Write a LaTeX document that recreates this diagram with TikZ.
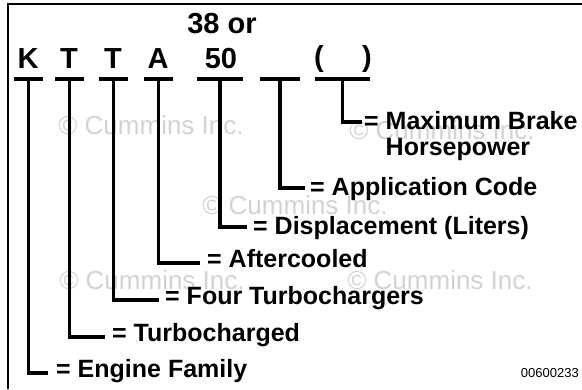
\documentclass[tikz,border=0pt]{standalone}
\usepackage{fontspec}
\setmainfont{Liberation Sans}
\usepackage{tikz}
\usetikzlibrary{positioning, calc}

\begin{document}
\begin{tikzpicture}[
    x=1pt, y=-1pt,
    letter/.style={
      font=\fontsize{29}{34}\selectfont\bfseries,
      inner sep=0pt, anchor=base
    },
    meaning/.style={
      font=\fontsize{25}{26.5}\selectfont\bfseries,
      inner sep=0pt, anchor=base west
    },
    bar/.style={line width=3.6pt},
    stem/.style={line width=3.6pt, line join=miter},
    frame/.style={line width=2.5pt},
    watermark/.style={
      font=\fontsize{26}{30}\selectfont,
      text=gray!35, inner sep=0pt
    },
    figno/.style={font=\fontsize{13}{15}\selectfont, inner sep=0pt, anchor=base east}
  ]

    % ── Page size and frame ───────────────────────────────────────────────
    \useasboundingbox (0,0) rectangle (582,389);
    \draw[frame] (8,389) -- (8,4) -- (582,4);

    % ── Watermarks (behind everything) ───────────────────────────────────
    \node[watermark] (wm1) at (151,125) {© Cummins Inc.};
    \node[watermark] (wm2) at (442,130) {© Cummins Inc.};
    \node[watermark] (wm3) at (295,205) {© Cummins Inc.};
    \node[watermark] (wm4) at (152,280) {© Cummins Inc.};
    \node[watermark] (wm5) at (440,280) {© Cummins Inc.};

    % ── Model code letters ───────────────────────────────────────────────
    \node[letter] (k)    at (28,68)  {K};
    \node[letter] (t1)   at (69,68)  {T};
    \node[letter] (t2)   at (113,68) {T};
    \node[letter] (a)    at (158,68) {A};
    \node[letter] (d50)  at (221,68) {50};
    \node[letter] (d38)  at (222,33) {38 or};
    \node[letter] (popen)  at (319,66) {(};
    \node[letter] (pclose) at (367,66) {)};

    % ── Bars under each position ─────────────────────────────────────────
    \foreach \n/\x/\w in {k/28.5/14.5, t1/69.5/14.5, t2/113.5/14.5, a/158.5/14.5,
                          dsp/220/23, app/280/20, hp/342.5/27.5} {
      \coordinate (\n-top) at (\x,79);
      \draw[bar] ([xshift=-\w pt]\n-top) -- ([xshift=\w pt]\n-top);
    }

    % ── Ends of the leader lines ─────────────────────────────────────────
    \coordinate (k-end)   at (48,373);
    \coordinate (t1-end)  at (105,337);
    \coordinate (t2-end)  at (159,300);
    \coordinate (a-end)   at (200,263);
    \coordinate (dsp-end) at (247,227);
    \coordinate (app-end) at (305,188);
    \coordinate (hp-end)  at (362,122);

    % ── Meanings ─────────────────────────────────────────────────────────
    \node[meaning] (lbl_k)   at (56,377)  {= Engine Family};
    \node[meaning] (lbl_t1)  at (112,341) {= Turbocharged};
    \node[meaning] (lbl_t2)  at (165,304) {= Four Turbochargers};
    \node[meaning] (lbl_a)   at (207,267) {= Aftercooled};
    \node[meaning] (lbl_dsp) at (253,234) {= Displacement (Liters)};
    \node[meaning] (lbl_app) at (310,195) {= Application Code};
    \node[meaning] (lbl_hp)  at (364,129)
      {\begin{tabular}[t]{@{}l@{ }l@{}}=&Maximum Brake\\&Horsepower\end{tabular}};

    % ── Leader lines ─────────────────────────────────────────────────────
    \foreach \n in {k, t1, t2, a, dsp, app, hp}
      \draw[stem] (\n-top) |- (\n-end);

    % ── Figure number ────────────────────────────────────────────────────
    \node[figno] (fig) at (579,377) {00600233};

  \end{tikzpicture}
\end{document}
